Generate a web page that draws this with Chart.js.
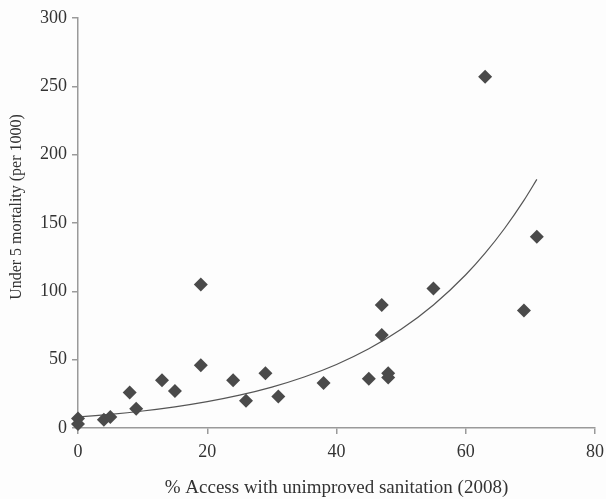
<!DOCTYPE html>
<html>
<head>
<meta charset="utf-8">
<script src="https://cdn.jsdelivr.net/npm/chart.js@4"></script>
<style>
  html, body { margin: 0; padding: 0; background: #fdfdfd; }
  #wrap { width: 606px; height: 499px; }
</style>
</head>
<body>
<div id="wrap"><canvas id="c" width="606" height="499"></canvas></div>
<script>
// % of population with access only to unimproved sanitation (2008)
const sanitationAccess = [0, 0, 4, 5, 8, 9, 13, 15, 19, 19, 24, 26, 29, 31, 38, 45, 47, 47, 48, 48, 55, 63, 69, 71];
// Under-5 mortality per 1000 live births
const under5Mortality = [3, 7, 6, 8, 26, 14, 35, 27, 46, 105, 35, 20, 40, 23, 33, 36, 68, 90, 37, 40, 102, 257, 86, 140];

// Exponential trend y = a * e^(b x)
const trendA = 8;
const trendB = 0.044;
const trendXs = [0, 5, 10, 15, 20, 25, 30, 35, 40, 45, 50, 55, 60, 63, 66, 69, 71];

const xTicks = [0, 20, 40, 60, 80];
const yTicks = [0, 50, 100, 150, 200, 250, 300];

const xTitle = '% Access with unimproved sanitation (2008)';
const yTitle = 'Under 5 mortality (per 1000)';

const scatterPoints = sanitationAccess.map((x, i) => ({ x, y: under5Mortality[i] }));
const trendPoints = trendXs.map(x => ({ x, y: trendA * Math.exp(trendB * x) }));

const textColor = '#333333';
const axisColor = '#9a9a9a';
const fontFamily = '"Liberation Serif", "Times New Roman", serif';

// Vertical axis title, drawn rotated beside the tick labels
const yTitlePlugin = {
  id: 'yTitle',
  afterDraw(chart) {
    const ctx = chart.ctx;
    ctx.save();
    ctx.translate(17, 207);
    ctx.rotate(-Math.PI / 2);
    ctx.font = '16px ' + fontFamily;
    ctx.fillStyle = textColor;
    ctx.textAlign = 'center';
    ctx.textBaseline = 'middle';
    ctx.fillText(yTitle, 0, 0);
    ctx.restore();
  }
};

const bgPlugin = {
  id: 'canvasBg',
  beforeDraw(chart) {
    const ctx = chart.ctx;
    ctx.save();
    ctx.fillStyle = '#fdfdfd';
    ctx.fillRect(0, 0, chart.width, chart.height);
    ctx.restore();
  }
};

new Chart(document.getElementById('c'), {
  type: 'scatter',
  data: {
    datasets: [
      {
        label: 'Under 5 mortality',
        data: scatterPoints,
        pointStyle: 'rectRot',
        pointRadius: 7,
        pointHoverRadius: 7,
        backgroundColor: '#4a4a4a',
        borderColor: '#4a4a4a',
        borderWidth: 0,
        clip: false,
        order: 1
      },
      {
        type: 'line',
        label: 'Trend',
        data: trendPoints,
        borderColor: '#555555',
        borderWidth: 1.2,
        pointRadius: 0,
        cubicInterpolationMode: 'monotone',
        fill: false,
        order: 2
      }
    ]
  },
  options: {
    responsive: false,
    animation: false,
    events: [],
    layout: { padding: { left: 0, right: 11, top: 18, bottom: 0 } },
    plugins: {
      legend: { display: false },
      tooltip: { enabled: false }
    },
    scales: {
      x: {
        type: 'linear',
        min: 0,
        max: 80,
        afterBuildTicks: s => { s.ticks = xTicks.map(v => ({ value: v })); },
        afterFit: s => { s.height = 71; s.paddingLeft = 0; s.paddingRight = 0; },
        border: { display: true, color: axisColor, width: 1.5 },
        grid: { drawOnChartArea: false, drawTicks: true, tickLength: 6, color: axisColor, lineWidth: 1.5 },
        ticks: { color: textColor, font: { family: fontFamily, size: 18 }, padding: 7, maxRotation: 0 },
        title: {
          display: true,
          text: xTitle,
          color: textColor,
          font: { family: fontFamily, size: 19 },
          padding: { top: 0, bottom: 0 }
        }
      },
      y: {
        type: 'linear',
        min: 0,
        max: 300,
        afterBuildTicks: s => { s.ticks = yTicks.map(v => ({ value: v })); },
        afterFit: s => { s.width = 78; },
        border: { display: true, color: axisColor, width: 1.5 },
        grid: { drawOnChartArea: false, drawTicks: true, tickLength: 6, color: axisColor, lineWidth: 1.5 },
        ticks: { color: textColor, font: { family: fontFamily, size: 18 }, padding: 5 }
      }
    }
  },
  plugins: [bgPlugin, yTitlePlugin]
});
</script>
</body>
</html>
